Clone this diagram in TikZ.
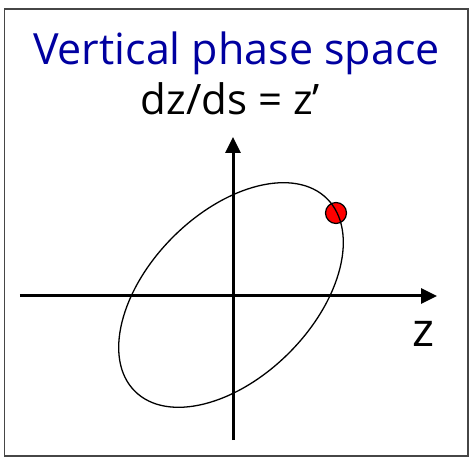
\documentclass[tikz,border=0pt]{standalone}
\usepackage{fontspec}
\setmainfont{Open Sans}
\usetikzlibrary{arrows.meta}
\definecolor{titleblue}{RGB}{0,0,160}
\definecolor{framegray}{RGB}{70,70,70}
\tikzset{
  axis/.style={line width=3pt, -{Triangle[length=16pt,width=15pt]}},
  orbit/.style={line width=1.3pt},
  particle/.style={circle, draw, fill=red, line width=1.2pt, minimum size=21pt, inner sep=0pt}
}
\begin{document}
\begin{tikzpicture}[x=1pt, y=1pt]
  \useasboundingbox (-233,-164) rectangle (238,296);
  \draw[line width=1.6pt, framegray] (-228.5,-160) rectangle (235,287);
  % titles
  \node[anchor=base, text=titleblue, font=\fontsize{43}{46}\selectfont] (title) at (3.5,231) {Vertical phase space};
  \node[anchor=base, font=\fontsize{42}{46}\selectfont] (eqn) at (-2.5,181) {dz/ds = z’};
  % axes
  \coordinate (zmin) at (-213,0);
  \coordinate (zmax) at (204,0);
  \coordinate (zpmin) at (0,-144);
  \coordinate (zpmax) at (0,159);
  \draw[axis] (zmin) -- (zmax);
  \draw[axis] (zpmin) -- (zpmax);
  \node[anchor=base, font=\fontsize{47}{50}\selectfont] (zlabel) at (190,-51) {z};
  % phase space ellipse and particle
  \node[particle] (dot) at (103,83) {};
  \draw[orbit, rotate around={45:(-2,1)}] (-2,1) ellipse (136 and 82);
\end{tikzpicture}
\end{document}
